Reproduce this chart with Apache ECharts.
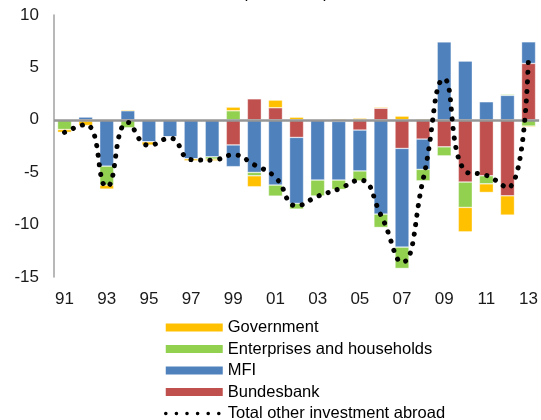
<!DOCTYPE html>
<html>
<head>
<meta charset="utf-8">
<script src="https://cdn.jsdelivr.net/npm/echarts@6/dist/echarts.min.js"></script>
<style>
  html, body { margin: 0; padding: 0; background: #fff; }
  #chart { width: 541px; height: 420px; }
</style>
</head>
<body>
<div id="chart"></div>
<script>
const YEARS = ['91','92','93','94','95','96','97','98','99','00','01','02','03','04','05','06','07','08','09','10','11','12','13'];

const BUNDESBANK = [0, 0, 0, 0, 0, 0, 0, 0, -2.4, 2.0, 1.15, -1.68, 0, -0.15, -0.98, 1.1, -2.73, -1.84, -2.58, -5.94, -5.34, -7.25, 5.38];
const MFI        = [0, 0.26, -4.42, 0.86, -2.1, -1.62, -3.72, -3.53, -2.07, -5.02, -6.23, -6.3, -5.75, -5.6, -3.9, -9.0, -9.42, -2.89, 7.44, 5.6, 1.72, 2.33, 2.06];
const ENTERPRISES = [-0.92, -0.1, -1.81, -0.76, 0, 0, 0, -0.22, 0.86, -0.32, -1.05, -0.54, -1.53, -0.89, -0.95, -1.27, -2.03, -1.09, -0.86, -2.42, -0.77, 0.1, -0.6];
const GOVERNMENT = [-0.28, -0.45, -0.38, 0.1, -0.31, -0.05, -0.19, -0.16, 0.35, -1.05, 0.73, 0.25, 0, 0.1, 0.15, 0.1, 0.35, 0.1, 0.05, -2.33, -0.82, -1.84, -0.1];
const TOTAL = [-1.2, -0.45, -6.4, -0.25, -2.45, -1.75, -3.8, -3.85, -3.35, -4.3, -5.5, -8.2, -7.3, -6.6, -5.75, -9.1, -13.6, -5.7, 3.9, -4.9, -5.3, -6.5, 6.3];

const FONT = '"Liberation Sans", Arial, sans-serif';

const chart = echarts.init(document.getElementById('chart'), null, { renderer: 'canvas' });

function barSeries(name, data, color) {
  return {
    name,
    type: 'bar',
    stack: 'total',
    data,
    barWidth: 14,
    itemStyle: { color, borderColor: 'rgba(255,255,255,0.6)', borderWidth: 0.6 },
    emphasis: { disabled: true },
  };
}

const bundesbank = barSeries('Bundesbank', BUNDESBANK, '#C0504D');
// zero line across the plot, drawn over the bars
bundesbank.markLine = {
  silent: true,
  symbol: 'none',
  label: { show: false },
  lineStyle: { color: '#969696', width: 2.5, type: 'solid' },
  data: [{ yAxis: 0 }],
  animation: false,
};

chart.setOption({
  animation: false,
  title: {
    text: '(% of GDP)',
    left: 237,
    top: -20,
    textStyle: { fontFamily: FONT, fontSize: 17, fontWeight: 'normal', color: '#000' },
  },
  grid: { left: 54, right: 1, top: 15, bottom: 143 },
  legend: {
    orient: 'vertical',
    left: 164,
    top: 319,
    height: 200,
    padding: 0,
    itemWidth: 57,
    itemHeight: 8,
    itemGap: 4.5,
    textStyle: { fontFamily: FONT, fontSize: 16.5, lineHeight: 16, color: '#000' },
    data: [
      { name: 'Government', icon: 'rect', itemStyle: { borderWidth: 0 } },
      { name: 'Enterprises and households', icon: 'rect', itemStyle: { borderWidth: 0 } },
      { name: 'MFI', icon: 'rect', itemStyle: { borderWidth: 0 } },
      { name: 'Bundesbank', icon: 'rect', itemStyle: { borderWidth: 0 } },
      {
        name: 'Total other investment abroad',
        itemStyle: { color: 'rgba(0,0,0,0)', borderWidth: 0 },
        lineStyle: { width: 3.5, type: [0.1, 10.5], cap: 'round', color: '#000' },
      },
    ],
    selectedMode: false,
  },
  xAxis: {
    type: 'category',
    data: YEARS,
    axisLine: { show: false, onZero: false },
    axisTick: { show: false },
    splitLine: { show: false },
    axisLabel: {
      interval: 1,
      margin: 14,
      fontFamily: FONT,
      fontSize: 17,
      color: '#1a1a1a',
    },
  },
  yAxis: {
    type: 'value',
    min: -15,
    max: 10,
    interval: 5,
    axisLine: { show: true, lineStyle: { color: '#a0a0a0', width: 1.5 } },
    axisTick: { show: false },
    splitLine: { show: false },
    axisLabel: { margin: 15, fontFamily: FONT, fontSize: 17, color: '#1a1a1a' },
  },
  series: [
    bundesbank,
    barSeries('MFI', MFI, '#4F81BD'),
    barSeries('Enterprises and households', ENTERPRISES, '#92D050'),
    barSeries('Government', GOVERNMENT, '#FFC000'),
    {
      name: 'Total other investment abroad',
      type: 'line',
      data: TOTAL,
      smooth: 0.5,
      symbol: 'none',
      z: 5,
      itemStyle: { color: '#000' },
      lineStyle: { color: '#000', width: 5, type: [0.1, 9.5], cap: 'round' },
      emphasis: { disabled: true },
    },
  ],
});
</script>
</body>
</html>
